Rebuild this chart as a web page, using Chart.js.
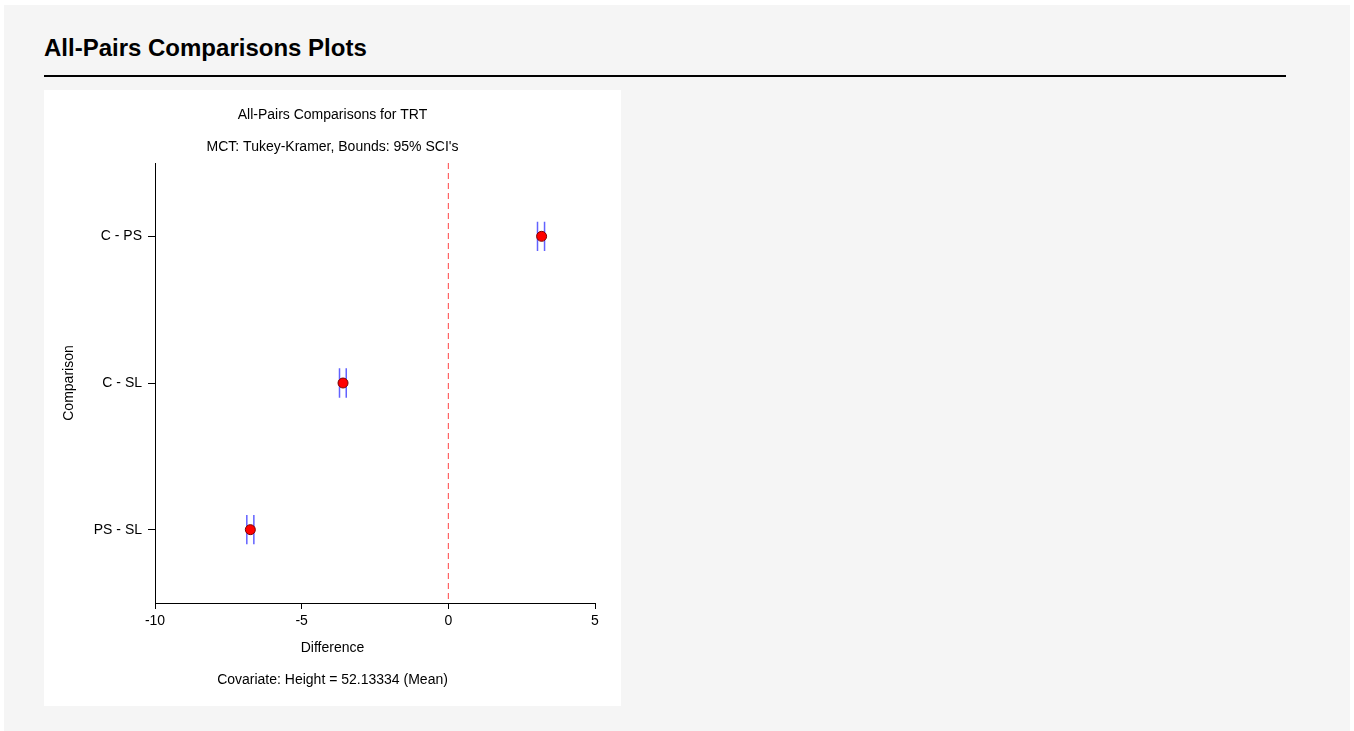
<!DOCTYPE html>
<html>
<head>
<meta charset="utf-8">
<script src="https://cdn.jsdelivr.net/npm/chart.js@4.4.1/dist/chart.umd.min.js"></script>
<style>
  body { margin: 0; background: #fff; font-family: "Liberation Sans", Arial, sans-serif; }
  #panel { position: absolute; left: 4px; top: 5px; width: 1346px; height: 726px; background: #f5f5f5; }
  #heading { position: absolute; left: 40px; top: 29px; margin: 0; font-size: 24px; font-weight: bold; color: #000; }
  #rule { position: absolute; left: 40px; top: 70px; width: 1242px; height: 2px; background: #000; }
  #box { position: absolute; left: 40px; top: 85px; width: 577px; height: 616px; background: #fff; }
</style>
</head>
<body>
<div id="panel">
  <h1 id="heading">All-Pairs Comparisons Plots</h1>
  <div id="rule"></div>
  <div id="box"><canvas id="chart" width="577" height="616"></canvas></div>
</div>
<script>
// данные сравнений
let comparisons = ['C - PS', 'C - SL', 'PS - SL'];
let diffs = [3.18, -3.59, -6.75];   // разность средних
let lower = [3.04, -3.71, -6.87];   // нижняя граница SCI
let upper = [3.28, -3.48, -6.63];   // верхняя граница SCI
let xTicks = [-10, -5, 0, 5];

let barHalf = 0.1; // половина высоты отрезка границы, в единицах оси y

function boundSegments(vals) {
    let pts = [];
    for (let j = 0; j < vals.length; j++) {
        pts.push({x: vals[j], y: j + 1 - barHalf});
        pts.push({x: vals[j], y: j + 1 + barHalf});
        pts.push({x: vals[j], y: null});
    }
    return pts;
}

let points = diffs.map((d, j) => ({x: d, y: j + 1}));
let font14 = {family: '"Liberation Sans", Arial, sans-serif', size: 14};

let ctx = document.getElementById('chart').getContext('2d');
let chart = new Chart(ctx, {
    type: 'scatter',
    data: {
        datasets: [
        {
            label: 'Difference',
            data: points,
            backgroundColor: '#ff0000',
            borderColor: '#7a0000',
            borderWidth: 1,
            pointRadius: 5,
            order: 0,
        },
        {
            label: 'Lower',
            data: boundSegments(lower),
            showLine: true,
            spanGaps: false,
            borderColor: 'rgba(70,70,255,0.85)',
            borderWidth: 1.5,
            pointRadius: 0,
            order: 1,
        },
        {
            label: 'Upper',
            data: boundSegments(upper),
            showLine: true,
            spanGaps: false,
            borderColor: 'rgba(70,70,255,0.85)',
            borderWidth: 1.5,
            pointRadius: 0,
            order: 1,
        },
        {
            label: 'Zero',
            data: [{x: 0, y: 0.5}, {x: 0, y: 3.5}],
            showLine: true,
            borderColor: '#ff4444',
            borderWidth: 1,
            borderDash: [6, 4],
            pointRadius: 0,
            order: 2,
        }],
    },
    options: {
        responsive: false,
        animation: false,
        devicePixelRatio: 1,
        layout: {padding: 0},
        plugins: {
            legend: {display: false},
            tooltip: {enabled: false},
            title: {
                display: true,
                text: ['All-Pairs Comparisons for TRT', "MCT: Tukey-Kramer, Bounds: 95% SCI's"],
                color: '#000',
                font: Object.assign({}, font14, {weight: 'normal', lineHeight: '32px'}),
                padding: {top: 9, bottom: 0},
            },
            subtitle: {
                display: true,
                position: 'bottom',
                text: ['Difference', 'Covariate: Height = 52.13334 (Mean)'],
                color: '#000',
                font: Object.assign({}, font14, {lineHeight: '32px'}),
                padding: {top: 1, bottom: 10},
            },
        },
        scales: {
            x: {
                type: 'linear',
                min: -10,
                max: 5,
                afterBuildTicks: (s) => { s.ticks = xTicks.map(v => ({value: v})); },
                afterFit: (s) => { s.height = 28; },
                ticks: {color: '#000', font: font14, padding: 4},
                grid: {display: true, drawOnChartArea: false, drawTicks: true, tickLength: 6, color: '#000'},
                border: {display: true, color: '#000', width: 1},
            },
            y: {
                type: 'linear',
                min: 0.5,
                max: 3.5,
                reverse: true,
                afterBuildTicks: (s) => { s.ticks = comparisons.map((c, j) => ({value: j + 1})); },
                afterFit: (s) => { s.width = 111; },
                ticks: {
                    color: '#000',
                    font: font14,
                    padding: 6,
                    callback: (v) => comparisons[v - 1],
                },
                grid: {display: true, drawOnChartArea: false, drawTicks: true, tickLength: 7, color: '#000'},
                border: {display: true, color: '#000', width: 1},
                title: {
                    display: true,
                    text: 'Comparison',
                    color: '#000',
                    font: font14,
                    padding: {top: 17, bottom: 0},
                },
            },
            // пустая правая ось - только отступ справа, чтобы заголовки были по центру холста
            yRight: {
                type: 'linear',
                position: 'right',
                display: true,
                afterFit: (s) => { s.width = 26; },
                ticks: {display: false},
                grid: {display: false},
                border: {display: false},
            },
        },
    },
});
</script>
</body>
</html>
